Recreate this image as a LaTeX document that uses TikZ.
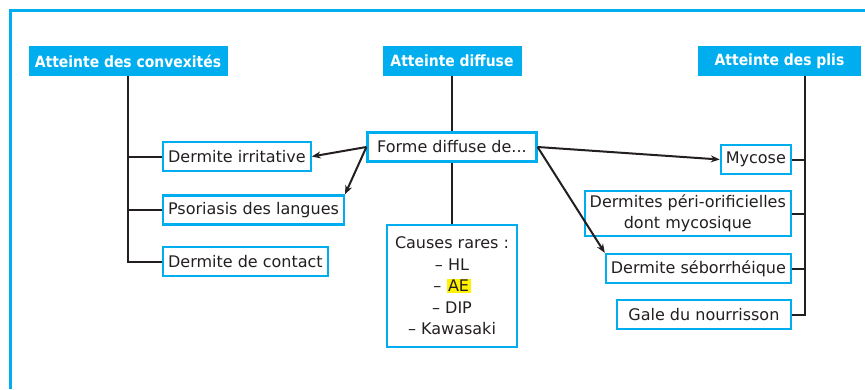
\documentclass[tikz,border=0pt]{standalone}
\usepackage{fontspec}
\setmainfont{DejaVu Sans}
\newfontfamily\headfont{DejaVu Sans Condensed}
\usetikzlibrary{arrows.meta}
\definecolor{cyanbox}{HTML}{00AEEF}
\definecolor{darkline}{HTML}{231F20}
\definecolor{hilite}{HTML}{FFF200}
\setlength{\fboxsep}{1.5pt}

\begin{document}
\begin{tikzpicture}[x=1pt, y=-1pt,
	head/.style={fill=cyanbox, text=white, font=\fontsize{15.5}{17}\headfont\bfseries, minimum height=30pt, inner xsep=6pt},
	item/.style={draw=cyanbox, line width=2.2pt, text=darkline, font=\fontsize{16}{21.5}\selectfont, minimum height=29pt, inner xsep=5pt, align=center},
	link/.style={draw=darkline, line width=2pt},
	arr/.style={link, -{Stealth[length=9pt, width=7pt]}}]
	\useasboundingbox (0,0) rectangle (865,389);

	% frame
	\draw[cyanbox, line width=3pt] (10,389) -- (10,10) -- (865,10);

	% headers
	\node[head, minimum width=199pt] (hconv) at (128,61)    {Atteinte des convexités};
	\node[head, minimum width=139pt] (hdiff) at (452,61)    {Atteinte diffuse};
	\node[head, minimum width=163pt] (hplis) at (779.5,61)  {Atteinte des plis};

	% centre
	\node[item, minimum width=169pt]           (forme)  at (452,147) {Forme diffuse de...};
	\node[item, minimum width=130pt, minimum height=122pt] (causes) at (452,286)
		{Causes rares :\\– HL\\– \colorbox{hilite}{AE}\\– DIP\\– Kawasaki};

	% convexites
	\node[item, anchor=west] (irrit)   at (162,156.5) {Dermite irritative};
	\node[item, anchor=west] (psor)    at (162,210)   {Psoriasis des langues};
	\node[item, anchor=west] (contact) at (162,261.5) {Dermite de contact};

	% plis
	\node[item, anchor=east] (mycose) at (792,159.5) {Mycose};
	\node[item, anchor=east] (peri)   at (792,213.5) {Dermites péri-orificielles\\dont mycosique};
	\node[item, anchor=east] (sebo)   at (792,268.5) {Dermite séborrhéique};
	\node[item, anchor=east, minimum width=174pt] (gale) at (792,314.5) {Gale du nourrisson};

	% trunks
	\coordinate (lend) at (128,263);
	\coordinate (rtop) at (805,76);
	\draw[link] (hconv.south) -- (lend);
	\draw[link] (irrit.west)   -- (irrit.west -| lend);
	\draw[link] (psor.west)    -- (psor.west -| lend);
	\draw[link] (contact.west) -- (contact.west -| lend);

	\draw[link] (rtop) |- (gale.east);
	\draw[link] (mycose.east) -- (mycose.east -| rtop);
	\draw[link] (peri.east)   -- (peri.east -| rtop);
	\draw[link] (sebo.east)   -- (sebo.east -| rtop);

	\draw[link] (hdiff.south) -- (forme.north);
	\draw[link] (forme.south) -- (causes.north);

	% arrows
	\draw[arr] (forme.west) -- (irrit.east);
	\draw[arr] (forme.west) -- (psor.north east);
	\draw[arr] (forme.east) -- (mycose.west);
	\draw[arr] (forme.east) -- (sebo.north west);
\end{tikzpicture}
\end{document}
